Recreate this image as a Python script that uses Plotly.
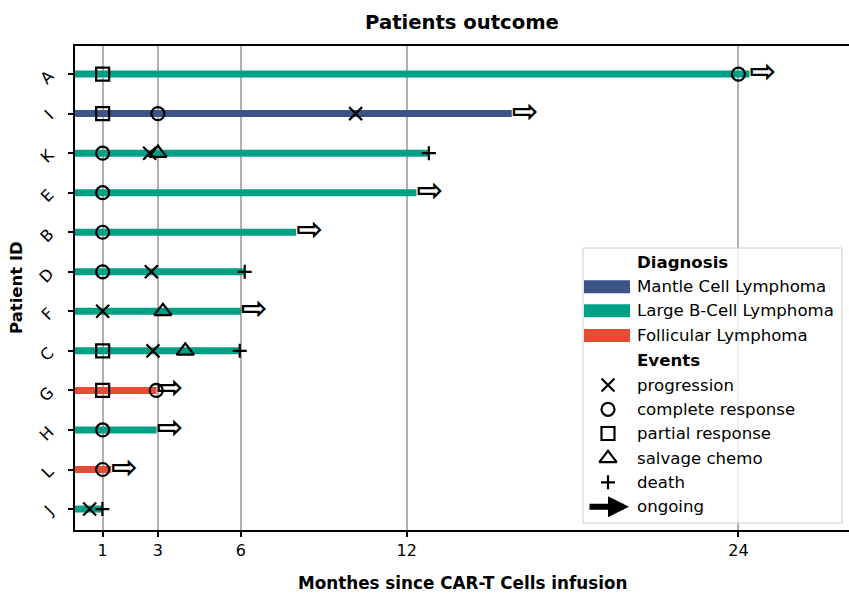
import plotly.graph_objects as go

# ---------------- data ----------------
patients = ['A', 'I', 'K', 'E', 'B', 'D', 'F', 'C', 'G', 'H', 'L', 'J']
diagnosis = ['Large B-Cell Lymphoma', 'Mantle Cell Lymphoma', 'Large B-Cell Lymphoma',
             'Large B-Cell Lymphoma', 'Large B-Cell Lymphoma', 'Large B-Cell Lymphoma',
             'Large B-Cell Lymphoma', 'Large B-Cell Lymphoma', 'Follicular Lymphoma',
             'Large B-Cell Lymphoma', 'Follicular Lymphoma', 'Large B-Cell Lymphoma']
followup_months = [24.4, 15.8, 12.8, 12.35, 8.0, 6.1, 6.0, 5.97, 2.95, 2.95, 1.3, 0.97]
ongoing = [True, True, False, True, True, False, True, False, True, True, True, False]

progression_patients = ['I', 'K', 'D', 'F', 'C', 'J']
progression_months = [10.15, 2.7, 2.76, 1.0, 2.82, 0.53]
complete_patients = ['A', 'I', 'K', 'E', 'B', 'D', 'H', 'L', 'G']
complete_months = [24.0, 3.0, 1.0, 1.0, 1.0, 1.0, 1.0, 1.0, 2.94]
partial_patients = ['A', 'I', 'C', 'G']
partial_months = [1.0, 1.0, 1.0, 1.0]
salvage_patients = ['K', 'F', 'C']
salvage_months = [3.0, 3.18, 3.99]
death_patients = ['K', 'D', 'C', 'J']
death_months = [12.8, 6.14, 5.96, 0.99]

diagnosis_names = ['Mantle Cell Lymphoma', 'Large B-Cell Lymphoma', 'Follicular Lymphoma']
diagnosis_colors = ['#3C5488', '#00A087', '#E64B35']
x_ticks = [1, 3, 6, 12, 24]

FONT = 'DejaVu Sans'

fig = go.Figure()

# ---------------- bars (follow-up lines) ----------------
for name, col in zip(diagnosis_names, diagnosis_colors):
    xs, ys = [], []
    for p, d, f in zip(patients, diagnosis, followup_months):
        if d == name:
            xs += [0, f, None]
            ys += [p, p, None]
    fig.add_trace(go.Scatter(x=xs, y=ys, mode='lines',
                             line=dict(color=col, width=7),
                             showlegend=False, hoverinfo='skip'))

# ---------------- events ----------------
events = [
    ('progression', 'x-thin-open', 13, progression_patients, progression_months),
    ('complete response', 'circle-open', 13, complete_patients, complete_months),
    ('partial response', 'square-open', 13, partial_patients, partial_months),
    ('salvage chemo', 'triangle-up-open', 15, salvage_patients, salvage_months),
    ('death', 'cross-thin-open', 10, death_patients, death_months),
]
for name, sym, sz, pats, months in events:
    fig.add_trace(go.Scatter(x=months, y=pats, mode='markers',
                             marker=dict(symbol=sym, size=sz, color='black',
                                         line=dict(width=2.2, color='black')),
                             showlegend=False, name=name))

# ---------------- ongoing arrows ----------------
ong_x = [f for f, o in zip(followup_months, ongoing) if o]
ong_y = [p for p, o in zip(patients, ongoing) if o]
fig.add_trace(go.Scatter(x=ong_x, y=ong_y, mode='text', text=['<b>⇨</b>'] * len(ong_x),
                         textposition='middle right',
                         textfont=dict(family=FONT, size=32, color='black'),
                         marker=dict(size=1),
                         showlegend=False, hoverinfo='skip'))

# ---------------- manual legend (pixel coordinate overlay) ----------------
box_x = [583, 842, 842, 583, 583]
box_y = [248, 248, 523, 523, 248]
fig.add_trace(go.Scatter(x=box_x, y=box_y, xaxis='x2', yaxis='y2', mode='lines',
                         fill='toself', fillcolor='rgba(255,255,255,0.8)',
                         line=dict(color='#cccccc', width=1),
                         showlegend=False, hoverinfo='skip'))

row_y = [262.7, 286.7, 310.7, 335.5, 360, 385, 409.3, 433.5, 458.3, 482.3, 506.7]
legend_labels = ['<b>Diagnosis</b>'] + diagnosis_names + ['<b>Events</b>'] + \
                [e[0] for e in events] + ['ongoing']

for i, col in enumerate(diagnosis_colors):
    y = row_y[1 + i]
    fig.add_trace(go.Scatter(x=[584, 630], y=[y, y], xaxis='x2', yaxis='y2',
                             mode='lines', line=dict(color=col, width=13),
                             showlegend=False, hoverinfo='skip'))

for i, (name, sym, sz, _, _) in enumerate(events):
    y = row_y[5 + i]
    fig.add_trace(go.Scatter(x=[608], y=[y], xaxis='x2', yaxis='y2', mode='markers',
                             marker=dict(symbol=sym, size=sz, color='black',
                                         line=dict(width=2.2, color='black')),
                             showlegend=False, hoverinfo='skip'))

annotations = []
for lab, y in zip(legend_labels, row_y):
    annotations.append(dict(x=635, y=y, xref='x2', yref='y2', text=lab,
                            showarrow=False, xanchor='left', yanchor='middle',
                            font=dict(family=FONT, size=16.6, color='black')))
# ongoing arrow in legend
annotations.append(dict(x=629, y=row_y[-1], ax=588, ay=row_y[-1],
                        xref='x2', yref='y2', axref='x2', ayref='y2',
                        text='', showarrow=True, arrowhead=2, arrowsize=0.7,
                        arrowwidth=6, arrowcolor='black', standoff=0))

# axis titles
annotations.append(dict(x=0.5, y=(530 - 583) / 484, xref='paper', yref='paper',
                        text='<b>Monthes since CAR-T Cells infusion</b>', showarrow=False,
                        xanchor='center', yanchor='middle',
                        font=dict(family=FONT, size=16.8, color='black')))
annotations.append(dict(x=(16 - 75) / 774, y=0.5, xref='paper', yref='paper',
                        text='<b>Patient ID</b>', showarrow=False, textangle=-90,
                        xanchor='center', yanchor='middle',
                        font=dict(family=FONT, size=16.5, color='black')))

fig.update_layout(
    width=849, height=593,
    margin=dict(l=75, r=0, t=46, b=63),
    paper_bgcolor='white', plot_bgcolor='white',
    font=dict(family=FONT, color='black'),
    title=dict(text='<b>Patients outcome</b>', x=0.5, xref='paper', xanchor='center',
               y=1 - 22 / 593, yref='container', yanchor='middle',
               font=dict(family=FONT, size=19.6, color='black')),
    xaxis=dict(range=[0, 28], tickvals=x_ticks, ticktext=[str(t) for t in x_ticks],
               showgrid=True, gridcolor='#b0b0b0', gridwidth=1.5,
               showline=True, linecolor='black', linewidth=1.6, mirror=True,
               ticks='outside', ticklen=5, tickwidth=1.5, tickcolor='black',
               tickfont=dict(family=FONT, size=16, color='black'), zeroline=False),
    yaxis=dict(type='category', categoryorder='array', categoryarray=patients[::-1],
               range=[-0.53, 11.71], showgrid=False,
               showline=True, linecolor='black', linewidth=1.6, mirror=False,
               ticks='outside', ticklen=5, tickwidth=1.5, tickcolor='black',
               tickangle=-45, ticklabelstandoff=16,
               tickfont=dict(family=FONT, size=16, color='black'),
               zeroline=False),
    xaxis2=dict(overlaying='x', anchor='y2', range=[75, 849], visible=False,
                fixedrange=True),
    yaxis2=dict(overlaying='y', anchor='x2', range=[530, 46], visible=False,
                fixedrange=True),
    annotations=annotations,
    showlegend=False,
)

fig.write_html('out.html', config={'displayModeBar': False},
               post_script="document.body.style.margin='0';document.body.style.overflow='hidden';")
